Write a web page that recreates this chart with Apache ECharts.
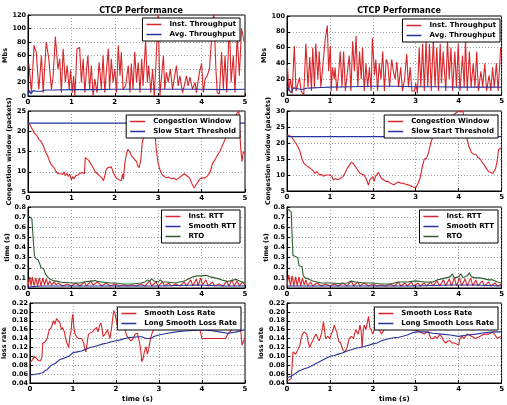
<!DOCTYPE html>
<html>
<head>
<meta charset="utf-8">
<script src="https://cdn.jsdelivr.net/npm/echarts@6/dist/echarts.min.js"></script>
<style>
html, body { margin: 0; padding: 0; background: #fff; }
#main { width: 507px; height: 405px; }
</style>
</head>
<body>
<div id="main"></div>
<script>
// [time (s), value] (left / right)
var instThroughputL = [[0.02,48],[0.08,5],[0.14,75],[0.19,65],[0.25,10],[0.31,60],[0.35,5],[0.42,80],[0.48,55],[0.54,10],[0.58,30],[0.63,88],[0.69,40],[0.73,55],[0.77,5],[0.81,70],[0.86,20],[0.90,45],[0.95,10],[0.98,38],[1.02,5],[1.05,30],[1.08,0],[1.13,70],[1.19,72],[1.23,20],[1.27,55],[1.31,5],[1.35,40],[1.38,60],[1.42,10],[1.46,45],[1.50,0],[1.54,25],[1.59,5],[1.64,50],[1.69,10],[1.73,60],[1.77,5],[1.81,40],[1.85,70],[1.88,10],[1.92,55],[1.96,20],[2.00,40],[2.04,5],[2.08,75],[2.12,30],[2.15,65],[2.19,10],[2.25,15],[2.31,45],[2.35,5],[2.38,48],[2.42,10],[2.46,65],[2.50,20],[2.54,50],[2.58,5],[2.62,55],[2.65,15],[2.71,82],[2.75,20],[2.78,45],[2.83,5],[2.87,40],[2.91,0],[2.95,50],[3.00,125],[3.04,0],[3.08,30],[3.12,60],[3.15,10],[3.19,35],[3.23,20],[3.28,40],[3.33,10],[3.38,30],[3.42,45],[3.46,15],[3.50,30],[3.56,5],[3.62,20],[3.65,30],[3.69,15],[3.73,28],[3.79,10],[3.85,20],[3.88,5],[3.95,35],[4.00,48],[4.04,5],[4.08,25],[4.13,30],[4.18,40],[4.23,85],[4.28,125],[4.33,40],[4.36,5],[4.41,3],[4.46,65],[4.50,10],[4.54,60],[4.58,5],[4.64,110],[4.68,20],[4.73,60],[4.77,5],[4.82,90],[4.87,30],[4.92,100],[4.98,80]];
var avgThroughputL = [[0,0],[0.03,8],[0.07,3],[0.12,8],[0.2,7],[0.3,7],[0.4,9],[0.6,9],[1.0,9.5],[1.5,9.5],[2,10],[3,10],[4,10],[4.5,9.5],[5,10]];
var instThroughputR = [[0.01,38],[0.04,5],[0.08,20],[0.12,2],[0.17,62],[0.21,5],[0.29,22],[0.33,5],[0.39,0],[0.44,65],[0.49,10],[0.53,48],[0.57,5],[0.60,60],[0.64,10],[0.67,65],[0.72,20],[0.75,55],[0.79,10],[0.84,40],[0.89,70],[0.94,88],[0.97,30],[1.01,62],[1.03,5],[1.06,35],[1.10,20],[1.12,35],[1.16,5],[1.20,25],[1.24,55],[1.28,10],[1.32,55],[1.36,5],[1.41,30],[1.45,50],[1.49,5],[1.53,68],[1.57,30],[1.61,75],[1.65,10],[1.69,55],[1.73,20],[1.76,60],[1.80,5],[1.84,40],[1.88,10],[1.92,35],[1.96,5],[1.99,72],[2.04,25],[2.07,45],[2.11,5],[2.15,40],[2.19,20],[2.23,55],[2.27,5],[2.31,45],[2.35,40],[2.39,10],[2.44,45],[2.48,30],[2.52,20],[2.56,42],[2.60,10],[2.65,35],[2.69,5],[2.74,20],[2.79,52],[2.83,10],[2.87,35],[2.91,5],[2.97,5],[3.00,15],[3.04,2],[3.08,60],[3.12,10],[3.16,65],[3.20,5],[3.24,70],[3.28,10],[3.32,65],[3.36,5],[3.41,70],[3.45,10],[3.49,60],[3.53,5],[3.57,65],[3.60,15],[3.64,55],[3.70,5],[3.74,70],[3.78,20],[3.82,60],[3.86,5],[3.91,55],[3.95,10],[3.99,65],[4.03,5],[4.09,50],[4.13,10],[4.16,70],[4.20,5],[4.25,55],[4.29,10],[4.34,40],[4.38,10],[4.42,55],[4.46,5],[4.52,30],[4.56,10],[4.61,40],[4.65,5],[4.71,25],[4.75,5],[4.79,35],[4.83,10],[4.88,40],[4.92,5],[4.98,60]];
var avgThroughputR = [[0,12],[0.05,6],[0.1,3],[0.15,9],[0.25,8],[0.35,7],[0.45,8.5],[0.6,9],[0.8,9.5],[1,10],[1.5,10.5],[2,11],[2.5,11],[3,10.5],[3.5,10.5],[4,10],[5,10]];

var cwndL = [[0,22],[0.05,21.5],[0.1,20.5],[0.15,19.5],[0.2,19],[0.25,18],[0.3,17.5],[0.35,16.5],[0.4,15],[0.45,14],[0.5,12.5],[0.55,11.5],[0.6,11],[0.65,10],[0.7,9.5],[0.75,9.5],[0.8,9.3],[0.83,10],[0.86,9],[0.9,9.6],[0.93,8.8],[0.96,9.4],[1.0,8],[1.03,8.8],[1.06,8.3],[1.1,9],[1.15,9.2],[1.2,9.6],[1.25,9.8],[1.28,10.2],[1.3,9.6],[1.32,13.5],[1.36,13.2],[1.4,12.8],[1.45,12],[1.5,11],[1.55,10],[1.6,9.5],[1.65,9],[1.7,8.5],[1.74,7.8],[1.77,9],[1.8,10.5],[1.84,11],[1.88,10.7],[1.92,11.2],[1.96,10],[2.0,9],[2.05,8.3],[2.1,8],[2.15,7.8],[2.18,9.5],[2.2,8.2],[2.23,12],[2.27,14.5],[2.3,15.5],[2.34,15],[2.38,14],[2.42,13.5],[2.46,13],[2.5,12.5],[2.53,11.5],[2.56,11],[2.6,13],[2.63,17],[2.66,18.5],[2.7,19],[2.75,21],[2.8,22],[2.85,22],[2.9,21],[2.93,19],[2.96,15],[3.0,12],[3.04,10.5],[3.08,9.5],[3.12,9],[3.18,8.5],[3.24,8.7],[3.3,8.3],[3.36,8.4],[3.42,8],[3.48,8.5],[3.54,9],[3.6,9.5],[3.66,9],[3.72,8.5],[3.78,7],[3.83,6],[3.87,6.8],[3.92,7.5],[3.96,8.2],[4.02,8.5],[4.08,8.5],[4.14,9],[4.2,10],[4.25,12],[4.3,12.8],[4.36,14],[4.42,15],[4.5,17],[4.58,19],[4.66,21.5],[4.74,23],[4.82,24.5],[4.86,25],[4.88,20],[4.9,16],[4.93,12.5],[4.96,15],[5.0,14.5]];
var ssthreshL = [[0,22],[5,22]];
var cwndR = [[0,22.5],[0.05,22.3],[0.1,22],[0.15,21],[0.2,20],[0.25,19],[0.3,17.5],[0.35,15],[0.4,13.5],[0.45,13],[0.5,12.5],[0.55,12],[0.6,11.5],[0.65,10.5],[0.7,11],[0.75,10],[0.8,10.2],[0.85,9.6],[0.9,10],[0.95,10],[1.0,10],[1.05,9.5],[1.08,8.5],[1.1,8],[1.13,8.8],[1.17,8.3],[1.2,8.6],[1.25,9],[1.3,9.5],[1.35,10.5],[1.4,12],[1.45,13],[1.5,14],[1.55,13.5],[1.6,12.5],[1.65,11.5],[1.7,10.5],[1.75,10.2],[1.8,10],[1.84,9],[1.88,7.5],[1.9,6.8],[1.93,8.5],[1.96,9],[2.0,9.5],[2.03,8],[2.06,9.5],[2.1,10],[2.13,10.8],[2.16,10],[2.2,9],[2.25,8.5],[2.3,8],[2.35,8],[2.4,7.5],[2.45,7.2],[2.5,7],[2.55,7.5],[2.6,7.8],[2.65,7.4],[2.7,7.5],[2.75,7.2],[2.8,7],[2.85,6.8],[2.9,6.5],[2.95,6.2],[3.0,6],[3.03,6.5],[3.06,7.5],[3.1,9],[3.13,11],[3.16,13],[3.2,15],[3.25,15.2],[3.3,17],[3.35,20],[3.4,22],[3.5,24],[3.6,25.5],[3.7,27],[3.8,28],[3.9,29],[4.0,30],[4.05,29.7],[4.1,30],[4.15,25],[4.2,21],[4.25,18.5],[4.3,17],[4.35,16.5],[4.4,16.5],[4.45,15.5],[4.5,15],[4.55,14],[4.6,13],[4.65,12],[4.7,11],[4.75,10.8],[4.8,10.5],[4.83,10],[4.86,12],[4.9,14.5],[4.93,18],[4.97,18.3],[5.0,18.5]];
var ssthreshR = [[0,22],[5,22]];

var instRttL = [[0,0.02],[0.04,0.11],[0.07,0.02],[0.1,0.11],[0.14,0.02],[0.18,0.1],[0.22,0.02],[0.26,0.1],[0.3,0.02],[0.34,0.1],[0.38,0.03],[0.42,0.09],[0.46,0.03],[0.5,0.07],[0.55,0.03],[0.6,0.06],[0.65,0.03],[0.7,0.05],[0.8,0.02],[0.9,0.04],[1.0,0.02],[1.1,0.05],[1.2,0.02],[1.3,0.06],[1.35,0.02],[1.45,0.07],[1.5,0.03],[1.6,0.06],[1.7,0.02],[1.8,0.05],[1.9,0.02],[2.0,0.04],[2.1,0.02],[2.2,0.03],[2.3,0.02],[2.4,0.03],[2.5,0.02],[2.6,0.04],[2.7,0.02],[2.8,0.07],[2.85,0.02],[2.95,0.06],[3.0,0.02],[3.1,0.06],[3.15,0.02],[3.25,0.05],[3.3,0.02],[3.4,0.04],[3.5,0.02],[3.6,0.06],[3.65,0.02],[3.75,0.08],[3.8,0.02],[3.88,0.09],[3.92,0.02],[3.98,0.1],[4.02,0.03],[4.1,0.08],[4.15,0.02],[4.25,0.06],[4.3,0.02],[4.4,0.04],[4.5,0.02],[4.58,0.07],[4.63,0.02],[4.7,0.08],[4.75,0.02],[4.82,0.07],[4.87,0.02],[4.95,0.06],[5.0,0.03]];
var smoothRttL = [[0,0.01],[0.3,0.02],[0.6,0.02],[1,0.02],[2,0.02],[3,0.02],[3.9,0.03],[4.5,0.02],[5,0.02]];
var rtoL = [[0,0.71],[0.05,0.7],[0.09,0.68],[0.11,0.55],[0.13,0.42],[0.15,0.32],[0.18,0.29],[0.23,0.28],[0.27,0.24],[0.3,0.2],[0.36,0.19],[0.4,0.14],[0.45,0.11],[0.5,0.09],[0.55,0.08],[0.6,0.07],[0.7,0.065],[0.8,0.055],[0.9,0.055],[1.0,0.05],[1.1,0.05],[1.2,0.05],[1.3,0.06],[1.4,0.065],[1.5,0.07],[1.55,0.075],[1.6,0.065],[1.7,0.06],[1.8,0.055],[1.9,0.05],[2.0,0.05],[2.1,0.045],[2.2,0.04],[2.3,0.04],[2.4,0.04],[2.5,0.045],[2.6,0.05],[2.7,0.06],[2.75,0.08],[2.8,0.065],[2.85,0.09],[2.9,0.07],[3.0,0.06],[3.05,0.08],[3.1,0.06],[3.2,0.06],[3.3,0.055],[3.4,0.05],[3.5,0.06],[3.6,0.07],[3.7,0.09],[3.8,0.11],[3.9,0.12],[4.0,0.12],[4.1,0.125],[4.2,0.11],[4.3,0.1],[4.4,0.09],[4.5,0.075],[4.6,0.065],[4.7,0.075],[4.8,0.085],[4.9,0.065],[5.0,0.05]];
var instRttR = [[0,0.02],[0.04,0.13],[0.08,0.02],[0.12,0.12],[0.16,0.02],[0.2,0.11],[0.24,0.02],[0.28,0.11],[0.32,0.02],[0.36,0.1],[0.4,0.03],[0.44,0.08],[0.48,0.02],[0.55,0.06],[0.6,0.02],[0.7,0.05],[0.8,0.02],[0.9,0.04],[1.0,0.02],[1.1,0.04],[1.2,0.02],[1.3,0.05],[1.4,0.02],[1.5,0.07],[1.55,0.02],[1.65,0.06],[1.7,0.02],[1.8,0.05],[1.9,0.02],[2.0,0.04],[2.1,0.02],[2.2,0.03],[2.3,0.02],[2.4,0.04],[2.5,0.02],[2.6,0.06],[2.65,0.02],[2.75,0.05],[2.8,0.02],[2.9,0.06],[2.95,0.02],[3.05,0.05],[3.1,0.02],[3.2,0.05],[3.25,0.02],[3.35,0.06],[3.4,0.02],[3.5,0.07],[3.55,0.02],[3.65,0.08],[3.7,0.02],[3.78,0.09],[3.83,0.02],[3.9,0.1],[3.95,0.02],[4.02,0.1],[4.07,0.02],[4.15,0.09],[4.2,0.02],[4.28,0.1],[4.33,0.02],[4.4,0.08],[4.45,0.02],[4.55,0.07],[4.6,0.02],[4.7,0.06],[4.75,0.02],[4.85,0.05],[4.9,0.02],[5.0,0.04]];
var smoothRttR = [[0,0.02],[0.1,0.02],[0.4,0.02],[1,0.02],[2,0.02],[3,0.02],[3.8,0.03],[4.4,0.03],[5,0.02]];
var rtoR = [[0,0.78],[0.05,0.77],[0.1,0.75],[0.12,0.5],[0.14,0.32],[0.2,0.31],[0.25,0.3],[0.28,0.22],[0.35,0.21],[0.38,0.12],[0.42,0.1],[0.5,0.09],[0.6,0.07],[0.7,0.06],[0.8,0.05],[1.0,0.05],[1.2,0.045],[1.4,0.05],[1.5,0.07],[1.6,0.06],[1.8,0.05],[2.0,0.05],[2.2,0.04],[2.4,0.04],[2.5,0.05],[2.6,0.06],[2.8,0.06],[3.0,0.07],[3.2,0.06],[3.4,0.06],[3.5,0.08],[3.6,0.09],[3.7,0.1],[3.8,0.11],[3.85,0.14],[3.9,0.1],[4.0,0.11],[4.05,0.14],[4.1,0.1],[4.2,0.12],[4.25,0.15],[4.3,0.11],[4.4,0.1],[4.5,0.1],[4.6,0.09],[4.7,0.08],[4.8,0.08],[4.9,0.06],[5.0,0.05]];

var smoothLossL = [[0,0.085],[0.03,0.088],[0.06,0.092],[0.1,0.1],[0.13,0.098],[0.16,0.095],[0.2,0.09],[0.25,0.09],[0.28,0.1],[0.3,0.13],[0.35,0.132],[0.38,0.13],[0.4,0.14],[0.45,0.16],[0.5,0.165],[0.53,0.175],[0.55,0.18],[0.58,0.172],[0.62,0.185],[0.66,0.183],[0.7,0.175],[0.73,0.16],[0.76,0.165],[0.8,0.155],[0.83,0.14],[0.86,0.13],[0.9,0.12],[0.93,0.145],[0.96,0.16],[0.98,0.185],[1.0,0.195],[1.02,0.165],[1.05,0.15],[1.1,0.142],[1.15,0.14],[1.2,0.14],[1.25,0.13],[1.28,0.115],[1.3,0.11],[1.33,0.13],[1.36,0.15],[1.4,0.148],[1.45,0.155],[1.5,0.16],[1.55,0.165],[1.58,0.155],[1.62,0.17],[1.65,0.175],[1.68,0.16],[1.7,0.145],[1.75,0.15],[1.8,0.16],[1.83,0.15],[1.86,0.14],[1.9,0.165],[1.93,0.19],[1.95,0.203],[1.98,0.195],[2.02,0.175],[2.05,0.17],[2.08,0.19],[2.12,0.165],[2.15,0.16],[2.18,0.18],[2.22,0.155],[2.26,0.145],[2.3,0.14],[2.35,0.135],[2.4,0.14],[2.45,0.15],[2.5,0.152],[2.55,0.13],[2.58,0.11],[2.6,0.088],[2.63,0.095],[2.66,0.11],[2.7,0.122],[2.73,0.105],[2.76,0.115],[2.8,0.14],[2.85,0.155],[2.9,0.165],[3.0,0.17],[3.2,0.175],[3.5,0.17],[3.8,0.165],[3.95,0.16],[4.0,0.14],[4.2,0.14],[4.4,0.14],[4.55,0.14],[4.6,0.15],[4.7,0.16],[4.8,0.165],[4.9,0.16],[4.93,0.125],[4.97,0.135],[5.0,0.14]];
var longLossL = [[0,0.058],[0.1,0.059],[0.2,0.061],[0.3,0.063],[0.35,0.068],[0.4,0.07],[0.45,0.075],[0.5,0.08],[0.55,0.082],[0.6,0.085],[0.7,0.093],[0.8,0.096],[0.9,0.1],[1.0,0.108],[1.1,0.11],[1.2,0.112],[1.3,0.116],[1.4,0.12],[1.5,0.122],[1.6,0.125],[1.7,0.128],[1.8,0.13],[1.9,0.133],[2.0,0.135],[2.1,0.137],[2.2,0.14],[2.3,0.142],[2.4,0.143],[2.5,0.144],[2.6,0.144],[2.7,0.14],[2.8,0.14],[2.9,0.145],[3.0,0.148],[3.2,0.152],[3.4,0.155],[3.6,0.157],[3.8,0.158],[4.0,0.16],[4.2,0.158],[4.4,0.155],[4.6,0.152],[4.8,0.155],[5.0,0.16]];
var smoothLossR = [[0,0.045],[0.05,0.047],[0.1,0.05],[0.12,0.08],[0.14,0.11],[0.17,0.108],[0.2,0.105],[0.23,0.11],[0.27,0.112],[0.3,0.125],[0.33,0.14],[0.36,0.15],[0.4,0.155],[0.43,0.158],[0.46,0.15],[0.5,0.13],[0.53,0.12],[0.57,0.13],[0.6,0.135],[0.64,0.145],[0.68,0.15],[0.72,0.14],[0.75,0.135],[0.8,0.15],[0.83,0.165],[0.85,0.178],[0.88,0.155],[0.9,0.14],[0.95,0.145],[1.0,0.14],[1.03,0.15],[1.07,0.158],[1.1,0.17],[1.13,0.162],[1.16,0.155],[1.2,0.135],[1.25,0.13],[1.3,0.115],[1.35,0.11],[1.4,0.12],[1.45,0.14],[1.5,0.145],[1.55,0.14],[1.6,0.16],[1.63,0.155],[1.66,0.15],[1.7,0.17],[1.73,0.155],[1.75,0.12],[1.78,0.16],[1.8,0.17],[1.84,0.16],[1.88,0.18],[1.9,0.19],[1.93,0.165],[1.96,0.16],[2.0,0.15],[2.05,0.165],[2.1,0.17],[2.15,0.16],[2.2,0.15],[2.3,0.165],[2.5,0.17],[2.7,0.165],[2.9,0.16],[3.0,0.16],[3.1,0.155],[3.2,0.15],[3.25,0.155],[3.3,0.155],[3.35,0.14],[3.4,0.14],[3.45,0.145],[3.5,0.14],[3.55,0.148],[3.6,0.145],[3.65,0.135],[3.7,0.13],[3.75,0.135],[3.8,0.135],[3.85,0.13],[3.9,0.13],[3.95,0.128],[4.0,0.125],[4.03,0.14],[4.08,0.145],[4.12,0.14],[4.2,0.15],[4.3,0.145],[4.4,0.14],[4.5,0.145],[4.6,0.15],[4.7,0.15],[4.8,0.155],[4.9,0.14],[4.95,0.143],[5.0,0.145]];
var longLossR = [[0,0.052],[0.1,0.055],[0.2,0.062],[0.3,0.068],[0.4,0.072],[0.5,0.075],[0.6,0.08],[0.7,0.085],[0.8,0.09],[0.9,0.095],[1.0,0.1],[1.1,0.102],[1.2,0.105],[1.3,0.108],[1.4,0.112],[1.5,0.115],[1.6,0.118],[1.7,0.12],[1.8,0.122],[1.9,0.125],[2.0,0.128],[2.1,0.13],[2.2,0.135],[2.3,0.138],[2.4,0.14],[2.5,0.142],[2.6,0.143],[2.7,0.145],[2.8,0.148],[2.9,0.152],[3.0,0.155],[3.2,0.155],[3.4,0.152],[3.6,0.15],[3.8,0.148],[4.0,0.145],[4.2,0.148],[4.4,0.15],[4.6,0.153],[4.8,0.155],[5.0,0.155]];

var xTicks = [0, 1, 2, 3, 4, 5];

var RED = '#d8262a', BLUE = '#27339a', GREEN = '#2d5e2f';
var FONT = 'DejaVu Sans';

var myChart = echarts.init(document.getElementById('main'));

// panel boxes: left col, right col ; rows top to bottom
var panels = [
  { left: 28, top: 15, width: 217, height: 81, y: [0, 120, 20, 0], name: 'Mbs', legendRight: 267, legendTop: 18 },
  { left: 28, top: 111, width: 217, height: 81, y: [5, 25, 5, 0], name: 'Congestion window (packets)', legendRight: 267, legendTop: 115 },
  { left: 28, top: 207, width: 217, height: 81, y: [0, 0.8, 0.1, 1], name: 'time (s)', legendRight: 267, legendTop: 210 },
  { left: 28, top: 303, width: 217, height: 80, y: [0.04, 0.22, 0.02, 2], name: 'loss rate', legendRight: 266, legendTop: 307 },
  { left: 287, top: 16, width: 215, height: 79, y: [0, 100, 20, 0], name: 'Mbs', legendRight: 7, legendTop: 19 },
  { left: 287, top: 111, width: 215, height: 80, y: [5, 30, 5, 0], name: 'Congestion window (packets)', legendRight: 9, legendTop: 115 },
  { left: 287, top: 207, width: 215, height: 81, y: [0, 0.8, 0.1, 1], name: 'time (s)', legendRight: 9, legendTop: 210 },
  { left: 287, top: 303, width: 215, height: 80, y: [0.04, 0.22, 0.02, 2], name: 'loss rate', legendRight: 9, legendTop: 307 }
];

var panelSeries = [
  [['Inst. Throughput', instThroughputL, RED], ['Avg. Throughput', avgThroughputL, BLUE]],
  [['Congestion Window', cwndL, RED], ['Slow Start Threshold', ssthreshL, BLUE]],
  [['Inst. RTT', instRttL, RED], ['Smooth RTT', smoothRttL, BLUE], ['RTO', rtoL, GREEN]],
  [['Smooth Loss Rate', smoothLossL, RED], ['Long Smooth Loss Rate', longLossL, BLUE]],
  [['Inst. Throughput', instThroughputR, RED], ['Avg. Throughput', avgThroughputR, BLUE]],
  [['Congestion Window', cwndR, RED], ['Slow Start Threshold', ssthreshR, BLUE]],
  [['Inst. RTT', instRttR, RED], ['Smooth RTT', smoothRttR, BLUE], ['RTO', rtoR, GREEN]],
  [['Smooth Loss Rate', smoothLossR, RED], ['Long Smooth Loss Rate', longLossR, BLUE]]
];

var grids = [], xAxes = [], yAxes = [], legends = [], series = [];
var gridLine = { show: true, lineStyle: { color: '#777', width: 0.7, type: [1, 2] } };

panels.forEach(function (p, i) {
  var isBottom = (i === 3 || i === 7);
  grids.push({ left: p.left, top: p.top, width: p.width, height: p.height, show: true, borderColor: '#000', borderWidth: 1 });
  xAxes.push({
    type: 'value', gridIndex: i, min: xTicks[0], max: xTicks[xTicks.length - 1], interval: 1,
    name: isBottom ? 'time (s)' : '', nameLocation: 'middle', nameGap: 13,
    nameTextStyle: { fontFamily: FONT, fontSize: 7, fontWeight: 'bold', color: '#000' },
    axisLine: { show: true, lineStyle: { color: '#000', width: 1 } },
    axisTick: { inside: true, length: 3, lineStyle: { color: '#000' } },
    axisLabel: { fontFamily: FONT, fontSize: 7, fontWeight: 'bold', color: '#000', margin: 3 },
    splitLine: gridLine
  });
  var dec = p.y[3];
  yAxes.push({
    type: 'value', gridIndex: i, min: p.y[0], max: p.y[1], interval: p.y[2],
    name: p.name, nameLocation: 'middle', nameRotate: 90, nameGap: i < 4 ? 15 : 14,
    nameTextStyle: { fontFamily: FONT, fontSize: 6.5, fontWeight: 'bold', color: '#000' },
    axisLine: { show: true, lineStyle: { color: '#000', width: 1 } },
    axisTick: { inside: true, length: 3, lineStyle: { color: '#000' } },
    axisLabel: { fontFamily: FONT, fontSize: 6.5, fontWeight: 'bold', color: '#000', margin: 2,
      formatter: function (v) { return v.toFixed(dec); } },
    splitLine: gridLine
  });
  var names = [];
  panelSeries[i].forEach(function (s) {
    names.push(s[0]);
    series.push({
      type: 'line', name: s[0], data: s[1], xAxisIndex: i, yAxisIndex: i,
      showSymbol: false, symbol: 'none', clip: true,
      lineStyle: { color: s[2], width: 1.1 }, itemStyle: { color: s[2] }
    });
  });
  legends.push({
    data: names, orient: 'vertical', right: p.legendRight, top: p.legendTop,
    icon: 'rect', itemWidth: 15, itemHeight: 1.5, itemGap: 3, padding: [3, 4, 3, 4],
    backgroundColor: '#fff', borderColor: '#000', borderWidth: 1,
    selectedMode: false,
    textStyle: { fontFamily: FONT, fontSize: 7, fontWeight: 'bold', color: '#000', padding: [0, 0, 0, 3] }
  });
});

var option = {
  backgroundColor: '#fff',
  animation: false,
  title: [
    { text: 'CTCP Performance', left: 136, top: 2, textAlign: 'center',
      textStyle: { fontFamily: FONT, fontSize: 8, fontWeight: 'bold', color: '#000' } },
    { text: 'CTCP Performance', left: 394, top: 2, textAlign: 'center',
      textStyle: { fontFamily: FONT, fontSize: 8, fontWeight: 'bold', color: '#000' } }
  ],
  grid: grids,
  xAxis: xAxes,
  yAxis: yAxes,
  legend: legends,
  series: series
};
myChart.setOption(option);
</script>
</body>
</html>
